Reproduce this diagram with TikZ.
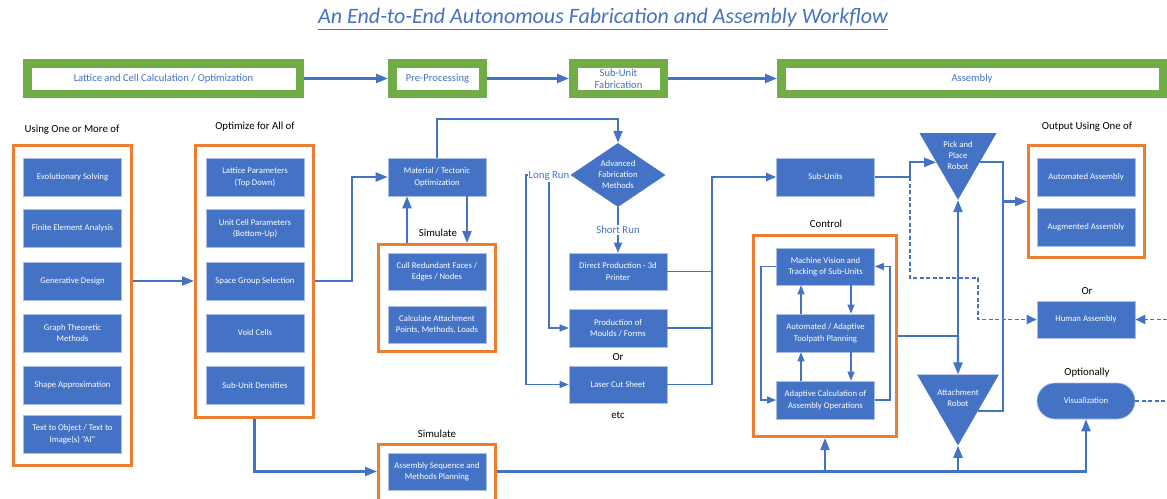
\documentclass[tikz,border=0pt]{standalone}
\usepackage{fontspec}
\setmainfont{Carlito}
\usetikzlibrary{arrows.meta,shapes.geometric,calc}
\definecolor{bx}{HTML}{4472C4}
\definecolor{ln}{HTML}{4472C4}
\definecolor{org}{HTML}{ED7D31}
\definecolor{grn}{HTML}{70AD47}
\definecolor{bxb}{HTML}{A9BFE6}
\begin{document}
\begin{tikzpicture}[x=1pt,y=-1pt,
 bbox/.style={rectangle, fill=bx, draw=bxb, line width=0.6pt, text=white, font=\fontsize{8.7}{11.5}\selectfont, align=center, minimum width=98pt, minimum height=38pt, inner sep=0pt},
 obox/.style={rectangle, draw=org, line width=2.6pt, inner sep=0pt},
 gbox/.style={rectangle, draw=grn, line width=8.5pt, fill=white, text=bx, font=\fontsize{10.6}{12}\selectfont, align=center, minimum height=30.5pt, inner sep=0pt},
 lbl/.style={font=\fontsize{10.8}{13}\selectfont, text=black, inner sep=1pt},
 rl/.style={font=\fontsize{10.8}{13}\selectfont, text=bx, fill=white, inner sep=1pt},
 wire/.style={draw=ln, line width=2.2pt},
 conn/.style={wire, -{Triangle[length=12pt,width=9pt]}},
 wiret/.style={draw=ln, line width=1.3pt},
 connt/.style={wiret, -{Triangle[length=9pt,width=7pt]}},
 wirem/.style={draw=ln, line width=1.8pt},
 connm/.style={wirem, -{Triangle[length=10pt,width=8pt]}},
 dsh/.style={draw=ln, line width=1.8pt, dash pattern=on 4pt off 2.5pt},
 dshc/.style={dsh, -{Triangle[length=10pt,width=9pt]}},
 robot/.style={regular polygon, regular polygon sides=3, shape border rotate=180, fill=bx, minimum size=89pt, inner sep=-4pt, text=white, font=\fontsize{8.7}{11}\selectfont, align=center},
]
\useasboundingbox[fill=white] (0,0) rectangle (1167,498);

% title
\node[font=\fontsize{22}{26}\selectfont\itshape, text=bx] (title) at (603,19) {\underline{An End-to-End Autonomous Fabrication and Assembly Workflow}};

% top row
\node[gbox, minimum width=272.5pt] (lat) at (163.5,78.5) {Lattice and Cell Calculation / Optimization};
\node[gbox, minimum width=90.5pt] (pre) at (437.5,78.5) {Pre-Processing};
\node[gbox, minimum width=90.5pt] (suf) at (618.5,78.5) {Sub-Unit\\Fabrication};
\node[gbox, minimum width=381.5pt] (asm) at (972,78.5) {Assembly};
\draw[conn] (lat.east) -- (pre.west);
\draw[conn] (pre.east) -- (suf.west);
\draw[conn] (suf.east) -- (asm.west);

% column 1
\node[lbl] (l1) at (72,130) {Using One or More of};
\node[obox, minimum width=118.4pt, minimum height=320.4pt] (o1) at (72.5,305.5) {};
\node[bbox] (evo) at (72.5,177) {Evolutionary Solving};
\node[bbox] (fea) at (72.5,228.5) {Finite Element Analysis};
\node[bbox] (gen) at (72.5,281) {Generative Design};
\node[bbox] (gtm) at (72.5,333) {Graph Theoretic\\Methods};
\node[bbox] (sha) at (72.5,385.5) {Shape Approximation};
\node[bbox] (tto) at (72.5,434) {Text to Object / Text to\\Image(s) "AI"};

% column 2
\node[lbl] (l2) at (255,127) {Optimize for All of};
\node[obox, minimum width=118.4pt, minimum height=272.4pt] (o2) at (254.5,281.5) {};
\node[bbox] (lp) at (255,177) {Lattice Parameters\\(Top Down)};
\node[bbox] (ucp) at (255,228.5) {Unit Cell Parameters\\(Bottom-Up)};
\node[bbox] (sgs) at (255,281) {Space Group Selection};
\node[bbox] (vc) at (255,333) {Void Cells};
\node[bbox] (sud) at (255,385.5) {Sub-Unit Densities};

\draw[conn] (gen.east -| o1.east) -- (gen.east -| o2.west);

% material & simulate
\node[bbox] (mat) at (437,177) {Material / Tectonic\\Optimization};
\node[lbl] (sim1) at (438,233) {Simulate};
\node[obox, minimum width=117.4pt, minimum height=107.4pt] (os1) at (437,298) {};
\node[bbox, minimum height=37pt] (cull) at (437,271.5) {Cull Redundant Faces /\\Edges / Nodes};
\node[bbox, minimum height=37pt] (calc) at (437,324.5) {Calculate Attachment\\Points, Methods, Loads};

\node[lbl] (sim2) at (437,434) {Simulate};
\node[obox, minimum width=117.4pt, minimum height=57.4pt] (os2) at (437,473) {};
\node[bbox, minimum height=37pt] (asq) at (437,471.5) {Assembly Sequence and\\Methods Planning};

\draw[conn] (o2.east |- sgs.east) -- (352,0 |- sgs.east) |- (mat.west);
\draw[conn] (467,0 |- mat.south) -- (467,0 |- os1.north);
\draw[conn] (407,0 |- os1.north) -- (407,0 |- mat.south);
\draw[conn] (o2.south) |- (os2.west |- asq.west);

% fabrication
\node[diamond, fill=bx, text=white, font=\fontsize{8.7}{11}\selectfont, align=center, minimum width=95pt, minimum height=64pt, inner sep=0pt, aspect=1.5] (dia) at (618,175) {Advanced\\Fabrication\\Methods};
\draw[conn] (mat.north) -- (mat.north |- 0,119) -| (dia.north);

\node[bbox, minimum height=37pt] (dp) at (618,271.5) {Direct Production - 3d\\Printer};
\node[bbox] (pm) at (618,328) {Production of\\Moulds / Forms};
\node[lbl] (or1) at (618,357) {Or};
\node[bbox, minimum height=37pt] (lc) at (618,384.5) {Laser Cut Sheet};
\node[lbl] (etc) at (618,415) {etc};

\draw[connm] (dia.south) -- node[rl] (sr) {Short Run} (dp.north);
\draw[connt] (dia.west) -- (526,0 |- dia.west) |- (lc.west);
\node[rl] (lr) at (549,176) {Long Run};
\draw[connt] (lr.south) |- (pm.west);

% sub-units
\node[bbox] (su) at (825.5,177) {Sub-Units};
\draw[wirem] (dp.east) -- (712,0 |- dp.east);
\draw[wirem] (pm.east) -- (712,0 |- pm.east);
\draw[connm] (lc.east) -- (712,0 |- lc.east) |- (su.west);

% control
\node[lbl] (ctll) at (826,224) {Control};
\node[obox, minimum width=143.4pt, minimum height=201.4pt] (ctl) at (825,336) {};
\node[bbox, minimum height=37pt] (mv) at (825.5,266.5) {Machine Vision and\\Tracking of Sub-Units};
\node[bbox] (tp) at (825.5,333) {Automated / Adaptive\\Toolpath Planning};
\node[bbox] (ac) at (825.5,400) {Adaptive Calculation of\\Assembly Operations};
\draw[connt] (851,0 |- mv.south) -- (851,0 |- tp.north);
\draw[connt] (801,0 |- tp.north) -- (801,0 |- mv.south);
\draw[connt] (851,0 |- tp.south) -- (851,0 |- ac.north);
\draw[connt] (801,0 |- ac.north) -- (801,0 |- tp.south);
\draw[connt] (mv.west) -- (761,0 |- mv.west) |- (ac.west);
\draw[connt] (ac.east) -- (890,0 |- ac.east) |- (mv.east);

% robots
\node[robot] (pp) at (958,155.25) {Pick and\\Place\\Robot};
\node[robot] (ar) at (958,398.25) {Attachment\\Robot};

\coordinate (j2) at (910,177);
\draw[conn] (su.east) -- (j2) |- (pp.198);
\coordinate (j1) at (pp.270 |- ctl.east);
\draw[wire] (ctl.east) -- (j1);
\draw[conn] (j1) -- (pp.270);
\draw[conn] (j1) -- (ar.90);

% output
\node[lbl] (l3) at (1087,127) {Output Using One of};
\node[obox, minimum width=116.4pt, minimum height=112.4pt] (ob) at (1086.5,201.5) {};
\node[bbox] (aa) at (1086,177) {Automated Assembly};
\node[bbox] (ag) at (1086,227) {Augmented Assembly};
\node[lbl] (or2) at (1087,291) {Or};
\node[bbox, minimum height=37pt] (ha) at (1086,319.5) {Human Assembly};
\node[lbl] (opt) at (1087,373) {Optionally};
\node[bbox, rounded corners=18pt, minimum height=36pt] (vis) at (1086,401) {Visualization};

\coordinate (rr) at (1003,0);
\draw[wire] (pp.342) -| (rr |- ar.328) -- (ar.328);
\draw[conn] (rr |- ob.west) -- (ob.west);

\draw[dshc] (j2) -- (910,278) -- (978,278) |- (ha.west);
\coordinate (rin) at (1167,319.5);
\draw[dshc] (rin) -- (ha.east);
\coordinate (rout) at (1167,401);
\draw[dsh] (vis.east) -- (rout);

% bottom line
\coordinate (j0) at (os2.east |- asq.east);
\draw[conn] (j0) -| (vis.south);
\draw[conn] (ctl.south |- j0) -- (ctl.south);
\draw[conn] (ar.270 |- j0) -- (ar.270);
\end{tikzpicture}
\end{document}
